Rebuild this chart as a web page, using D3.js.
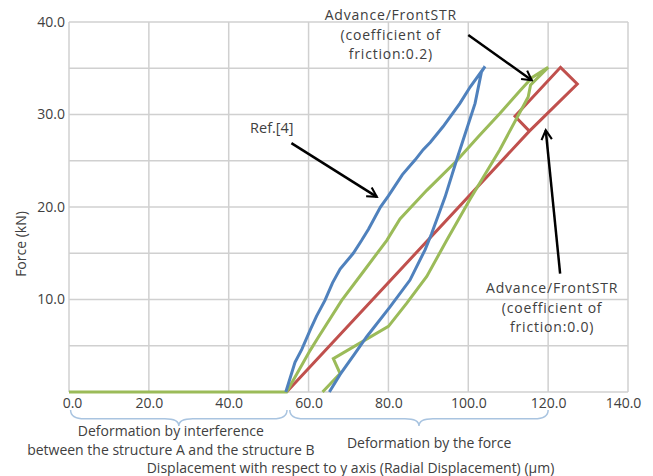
<!DOCTYPE html>
<html>
<head>
<meta charset="utf-8">
<script src="https://cdn.jsdelivr.net/npm/d3@7/dist/d3.min.js"></script>
<style>
body { margin: 0; background: #fff; }
text { font-family: "Open Sans", sans-serif; fill: #404040; }
</style>
</head>
<body>
<div id="chart"></div>
<script>
// axis ticks
var xTicks = [0, 20, 40, 60, 80, 100, 120, 140];
var yTicks = [10, 20, 30, 40];
var yGrid = [0, 5, 10, 15, 20, 25, 30, 35, 40];

// Ref.[4] curve (displacement um, force kN)
var refX = [54.3, 56.6, 58.3, 60.5, 62.0, 64.1, 66.0, 67.9, 71.2, 73.3, 75.0, 78.0, 80.0, 83.5, 86.7, 88.7, 90.5, 93.7, 97.9, 100.5, 104.2,
            103.3, 101.7, 97.1, 94.2, 90.8, 89.2, 85.4, 80.4, 74.6, 71.5, 67.9, 65.2];
var refY = [0, 3.2, 4.6, 6.8, 8.2, 9.9, 11.8, 13.3, 15.0, 16.4, 17.6, 20.0, 21.2, 23.5, 25.1, 26.2, 27.0, 28.7, 31.2, 33.0, 35.2,
            34.6, 31.2, 25.1, 21.1, 17.1, 15.4, 12.1, 9.2, 6.0, 4.1, 1.9, 0];

// Advance/FrontSTR, friction 0.2
var f02X = [0, 54.5, 60.4, 62.4, 68.3, 73.7, 79.6, 82.9, 89.6, 92.9, 97.1, 102.5, 107.9, 113.0, 116.0, 120.0,
            115.6, 115.0, 107.9, 100.4, 94.6, 89.6, 84.6, 80.0, 66.2, 67.9, 63.5];
var f02Y = [0, 0, 4.5, 5.9, 9.9, 13.0, 16.4, 18.7, 21.8, 23.2, 25.0, 27.6, 30.1, 32.6, 34.0, 35.1,
            33.2, 31.9, 26.2, 20.8, 16.4, 12.5, 9.6, 7.1, 3.6, 2.0, 0];

// Advance/FrontSTR, friction 0.0
var f00X = [54.5, 115.3, 127.3, 123.1, 111.7, 115.3];
var f00Y = [0, 28.2, 33.3, 35.1, 29.8, 28.2];

// braces under the axis
var braceSpans = [[0.4, 54.6], [55.3, 120]];
var braceLabels = [
  {x: 25.5, lines: ["Deformation by interference", "between the structure A and the structure B"]},
  {x: 90.2, lines: ["Deformation by the force"]}
];

// annotations: text anchor and arrow (data units)
var notes = [
  {tx: 50.8, ty: 28.0, lines: ["Ref.[4]"], from: [55.7, 26.9], to: [77.1, 21.1]},
  {tx: 80.6, ty: 40.2, lines: ["Advance/FrontSTR", "(coefficient of", "friction:0.2)"], from: [100.0, 38.6], to: [115.9, 33.7]},
  {tx: 121.0, ty: 10.7, lines: ["Advance/FrontSTR", "(coefficient of", "friction:0.0)"], from: [123.0, 12.8], to: [119.4, 28.3]}
];

var margin = {top: 22, right: 25, bottom: 84, left: 69},
    width = 653 - margin.left - margin.right,
    height = 476 - margin.top - margin.bottom;

var svg = d3.select("#chart")
  .append("svg")
    .attr("width", 653)
    .attr("height", 476)
  .append("g")
    .attr("transform", "translate(" + margin.left + "," + margin.top + ")");

var x = d3.scaleLinear().domain([0, 140]).range([0, width]);
var y = d3.scaleLinear().domain([0, 40]).range([height, 0]);

// grid
svg.selectAll(".hgrid")
  .data(yGrid)
  .enter().append("line")
    .attr("x1", 0).attr("x2", width)
    .attr("y1", function(d) { return y(d); })
    .attr("y2", function(d) { return y(d); })
    .attr("stroke", "#d0d0d0").attr("stroke-width", 1.5);

svg.selectAll(".vgrid")
  .data(xTicks)
  .enter().append("line")
    .attr("y1", 0).attr("y2", height)
    .attr("x1", function(d) { return x(d); })
    .attr("x2", function(d) { return x(d); })
    .attr("stroke", "#d0d0d0").attr("stroke-width", 1.5);

// axes (labels only)
var xAxis = svg.append("g")
  .attr("transform", "translate(0," + height + ")")
  .call(d3.axisBottom(x).tickValues(xTicks).tickFormat(d3.format(".1f")).tickSize(0).tickPadding(6));
xAxis.select(".domain").remove();
xAxis.selectAll("text")
  .style("font-size", "14px")
  .attr("fill", "#404040")
  .attr("dx", function(d) { return d === 0 ? 3 : (d === 140 ? -5 : 0); });

var yAxis = svg.append("g")
  .call(d3.axisLeft(y).tickValues(yTicks).tickFormat(d3.format(".1f")).tickSize(0).tickPadding(4));
yAxis.select(".domain").remove();
yAxis.selectAll("text").style("font-size", "14px").attr("fill", "#404040");

// series
var line = d3.line()
  .x(function(d) { return x(d[0]); })
  .y(function(d) { return y(d[1]); });

function zip(xs, ys) { return xs.map(function(v, i) { return [v, ys[i]]; }); }

var series = [
  {pts: zip(f00X, f00Y), color: "#c0504d"},
  {pts: zip(f02X, f02Y), color: "#9bbb59"},
  {pts: zip(refX, refY), color: "#4f81bd"}
];

svg.selectAll(".series")
  .data(series)
  .enter().append("path")
    .attr("d", function(d) { return line(d.pts); })
    .attr("fill", "none")
    .attr("stroke", function(d) { return d.color; })
    .attr("stroke-width", 3)
    .attr("stroke-linejoin", "miter");

// arrows
svg.append("defs").append("marker")
    .attr("id", "head")
    .attr("viewBox", "0 0 12 12")
    .attr("refX", 10).attr("refY", 6)
    .attr("markerWidth", 5).attr("markerHeight", 5)
    .attr("markerUnits", "strokeWidth")
    .attr("orient", "auto")
  .append("path")
    .attr("d", "M1,1 L10,6 L1,11")
    .attr("fill", "none")
    .attr("stroke", "#000")
    .attr("stroke-width", 2);

svg.selectAll(".arrow")
  .data(notes)
  .enter().append("line")
    .attr("x1", function(d) { return x(d.from[0]); })
    .attr("y1", function(d) { return y(d.from[1]); })
    .attr("x2", function(d) { return x(d.to[0]); })
    .attr("y2", function(d) { return y(d.to[1]); })
    .attr("stroke", "#000")
    .attr("stroke-width", 2.5)
    .attr("marker-end", "url(#head)");

notes.forEach(function(n) {
  var t = svg.append("text")
    .attr("x", x(n.tx))
    .attr("y", y(n.ty))
    .attr("text-anchor", "middle")
    .style("font-size", n.lines.length > 1 ? "14px" : "14.5px")
    .style("letter-spacing", n.lines.length > 1 ? "0.8px" : "0px");
  n.lines.forEach(function(s, i) {
    t.append("tspan").attr("x", x(n.tx)).attr("dy", i === 0 ? 0 : 19.5).text(s);
  });
});

// braces
function brace(x0, x1, y0, h) {
  var xm = (x0 + x1) / 2, r = 14, ym = y0 + h * 0.55;
  return "M" + x0 + "," + y0 +
    " Q" + x0 + "," + ym + " " + (x0 + r) + "," + ym +
    " L" + (xm - r) + "," + ym +
    " Q" + xm + "," + ym + " " + xm + "," + (y0 + h) +
    " Q" + xm + "," + ym + " " + (xm + r) + "," + ym +
    " L" + (x1 - r) + "," + ym +
    " Q" + x1 + "," + ym + " " + x1 + "," + y0;
}

svg.selectAll(".brace")
  .data(braceSpans)
  .enter().append("path")
    .attr("d", function(d) { return brace(x(d[0]), x(d[1]), height + 18, 16); })
    .attr("fill", "none")
    .attr("stroke", "#a9c4e0")
    .attr("stroke-width", 1.5);

braceLabels.forEach(function(b, k) {
  var t = svg.append("text")
    .attr("x", x(b.x))
    .attr("y", height + (k === 0 ? 44 : 56))
    .attr("text-anchor", "middle")
    .style("font-size", "14px");
  b.lines.forEach(function(s, i) {
    t.append("tspan").attr("x", x(b.x)).attr("dy", i === 0 ? 0 : 19).text(s);
  });
});

// axis titles
svg.append("text")
  .attr("x", x(70.5))
  .attr("y", height + 81)
  .attr("text-anchor", "middle")
  .style("font-size", "14px")
  .text("Displacement with respect to y axis (Radial Displacement) (\u03bcm)");

svg.append("text")
  .attr("transform", "translate(" + (-43) + "," + y(16) + ") rotate(-90)")
  .attr("text-anchor", "middle")
  .style("font-size", "14px")
  .text("Force (kN)");
</script>
</body>
</html>
